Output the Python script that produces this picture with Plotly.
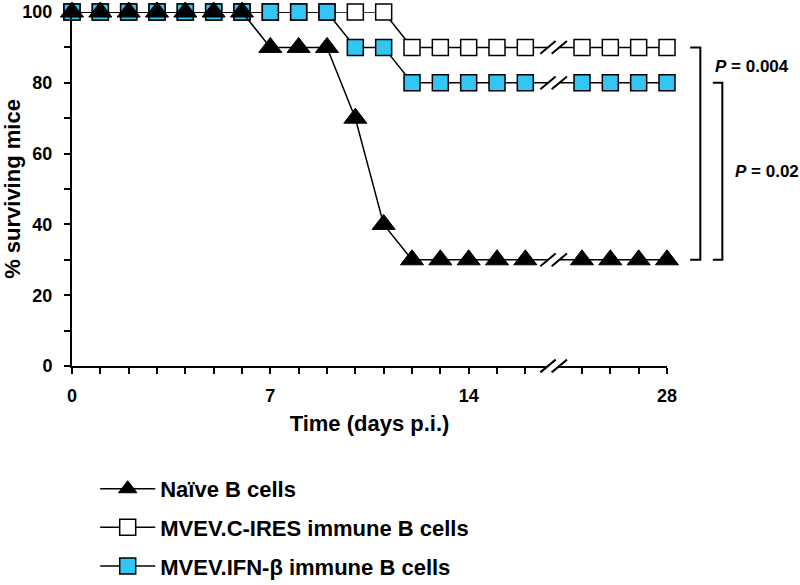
import plotly.graph_objects as go

# axis slot of each observed day; slot 17 is the axis break, slot 21 is day 28
slots = [0, 1, 2, 3, 4, 5, 6, 7, 8, 9, 10, 11, 12, 13, 14, 15, 16, 18, 19, 20, 21]
break_slot = 17
tick_slots = [0, 1, 2, 3, 4, 5, 6, 7, 8, 9, 10, 11, 12, 13, 14, 15, 16, 18, 19, 20, 21]
tick_text = ["0", "", "", "", "", "", "", "7", "", "", "", "", "", "", "14", "", "", "", "", "", "28"]
y_ticks = [0, 10, 20, 30, 40, 50, 60, 70, 80, 90, 100]
y_text = ["0", "", "20", "", "40", "", "60", "", "80", "", "100"]

naive = [100, 100, 100, 100, 100, 100, 100, 90, 90, 90, 70, 40, 30, 30, 30, 30, 30, 30, 30, 30, 30]
cires = [100, 100, 100, 100, 100, 100, 100, 100, 100, 100, 100, 100, 90, 90, 90, 90, 90, 90, 90, 90, 90]
ifnb = [100, 100, 100, 100, 100, 100, 100, 100, 100, 100, 90, 90, 80, 80, 80, 80, 80, 80, 80, 80, 80]

BLUE = "#33C6F4"
FONT = "Liberation Sans, Arial, sans-serif"

fig = go.Figure()

# drawn bottom-up so the triangles sit on top, as in the original
fig.add_trace(go.Scatter(
    x=slots, y=cires, name="<b>MVEV.C-IRES immune B cells</b>", mode="lines+markers",
    line=dict(color="black", width=1.5),
    marker=dict(symbol="square", size=16, color="white", line=dict(color="black", width=1.5)),
    cliponaxis=False, legendrank=2, legendgroup="b",
))
fig.add_trace(go.Scatter(
    x=slots, y=ifnb, name="<b>MVEV.IFN-β immune B cells</b>", mode="lines+markers",
    line=dict(color="black", width=1.5),
    marker=dict(symbol="square", size=16, color=BLUE, line=dict(color="black", width=1.5)),
    cliponaxis=False, legendrank=3, legendgroup="c",
))
fig.add_trace(go.Scatter(
    x=slots, y=naive, name="<b>Naïve B cells</b>", mode="lines+markers",
    line=dict(color="black", width=1.5),
    marker=dict(symbol="triangle-up", size=20, color="black", line=dict(color="black", width=1)),
    cliponaxis=False, legendrank=1, legendgroup="a",
))

# axis-break marks: white gap between two slashes, on each series and on the x axis
shapes = []
gap, dx = 0.2, 0.27
x1, x2 = break_slot - gap, break_slot + gap


def break_marks(y, dy, yref):
    out = [dict(type="path", xref="x", yref=yref, layer="above",
                path=f"M{x1-dx},{y-dy} L{x2-dx},{y-dy} L{x2+dx},{y+dy} L{x1+dx},{y+dy} Z",
                fillcolor="white", line=dict(width=0))]
    for xc in (x1, x2):
        out.append(dict(type="line", xref="x", yref=yref, layer="above",
                        x0=xc - dx, y0=y - dy, x1=xc + dx, y1=y + dy,
                        line=dict(color="black", width=2)))
    return out


for series in (naive, cires, ifnb):
    shapes += break_marks(series[16], 1.8, "y")
shapes += break_marks(0, 0.018, "paper")

# significance brackets
for (xa, xb, ytop, ybot) in [(1.039, 1.056, cires[-1], naive[-1]),
                             (1.077, 1.093, ifnb[-1], naive[-1])]:
    shapes.append(dict(type="path", xref="paper", yref="y", layer="above",
                       path=f"M{xa},{ytop} H{xb} V{ybot} H{xa}",
                       line=dict(color="black", width=2)))

annotations = [
    dict(text="<b><i>P</i> = 0.004</b>", xref="paper", yref="y", x=1.077, y=84.5,
         xanchor="left", yanchor="middle", showarrow=False, font=dict(size=17)),
    dict(text="<b><i>P</i> = 0.02</b>", xref="paper", yref="y", x=1.111, y=55,
         xanchor="left", yanchor="middle", showarrow=False, font=dict(size=17)),
]

fig.update_layout(
    width=800, height=585,
    margin=dict(l=72, r=133, t=12, b=219, autoexpand=False),
    paper_bgcolor="white", plot_bgcolor="white",
    font=dict(family=FONT, color="black", size=18),
    shapes=shapes, annotations=annotations,
    showlegend=True,
    legend=dict(x=0.039, y=-0.288, xanchor="left", yanchor="top",
                font=dict(size=22), tracegroupgap=7, itemwidth=55,
                bgcolor="rgba(0,0,0,0)"),
)
fig.update_xaxes(
    range=[0, 21], automargin=False, showline=True, linecolor="black", linewidth=2,
    showgrid=False, zeroline=False,
    tickmode="array", tickvals=tick_slots,
    ticktext=[f"<b>{t}</b>" if t else "" for t in tick_text],
    ticks="outside", ticklen=6, tickwidth=2, tickcolor="black",
    tickfont=dict(size=18), ticklabelstandoff=6, ticklabeloverflow="allow",
    title=dict(text="<b>Time (days p.i.)</b>", font=dict(size=22), standoff=11),
)
fig.update_yaxes(
    range=[0, 100], automargin=False, showline=True, linecolor="black", linewidth=2,
    showgrid=False, zeroline=False,
    tickmode="array", tickvals=y_ticks,
    ticktext=[f"<b>{t}</b>" if t else "" for t in y_text],
    ticks="outside", ticklen=6, tickwidth=2, tickcolor="black",
    tickfont=dict(size=18), ticklabelstandoff=8, ticklabeloverflow="allow",
    title=dict(text="<b>% surviving mice</b>", font=dict(size=22), standoff=4),
)

# drop the page's default body margin so the figure sits at the window's corner
fig.write_html("out.html", config={"displayModeBar": False},
               post_script="document.body.style.margin='0';")
